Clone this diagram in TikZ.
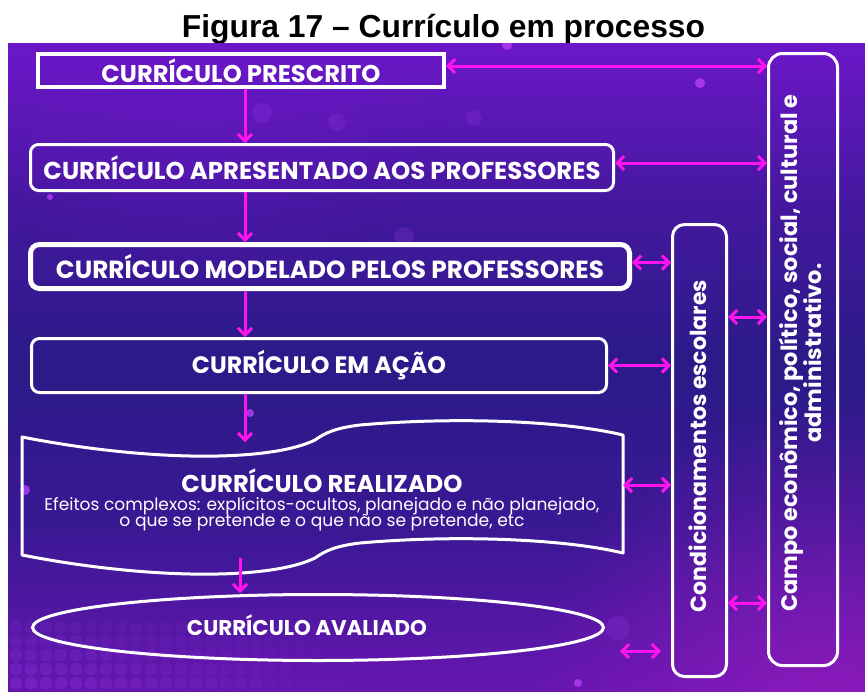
\documentclass[tikz,border=0pt]{standalone}
\usepackage{graphicx}
\usepackage{fontspec}
\setmainfont{Poppins}
\newfontfamily\titlefont{Liberation Sans}
\usetikzlibrary{arrows.meta,shapes.geometric,fadings}
\definecolor{mag}{HTML}{FF14EE}
\definecolor{bgA}{HTML}{6C17C8}
\definecolor{bgB}{HTML}{44189E}
\definecolor{bgC}{HTML}{2B1A88}
\definecolor{bgD}{HTML}{3A1894}
\definecolor{bgE}{HTML}{6616B0}
\definecolor{glowc}{HTML}{9A1CC0}
\definecolor{dotc}{HTML}{9C3CE8}
\definecolor{bokeh}{HTML}{B23CF2}
\pgfdeclareverticalshading{bgshade}{100bp}{color(0bp)=(bgE); color(25bp)=(bgE); color(37.5bp)=(bgD); color(50bp)=(bgC); color(62.5bp)=(bgB); color(75bp)=(bgA); color(100bp)=(bgA)}
\tikzfading[name=softglow, inner color=transparent!0, outer color=transparent!100]
\tikzset{
  box/.style={draw=white, text=white, inner sep=0pt, line width=3pt, rounded corners=8pt},
  biarrow/.style={mag, line width=3pt, {Straight Barb[length=7pt,width=14pt]}-{Straight Barb[length=7pt,width=14pt]}},
  downarrow/.style={mag, line width=3pt, -{Straight Barb[length=7pt,width=14pt]}},
  wtext/.style={text=white, inner sep=0pt},
}
\begin{document}
\begin{tikzpicture}[x=1pt,y=-1pt]
\fill[white] (0,0) rectangle (865,691);
\useasboundingbox (0,0) rectangle (865,691);
% title
\node[anchor=base, text=black, inner sep=0pt] (title) at (443.5,37) {\resizebox{523pt}{!}{\titlefont\bfseries Figura 17 – Currículo em processo}};
% background
\shade[shading=bgshade] (8,43) rectangle (865,691);
\begin{scope}
  \clip (8,43) rectangle (865,691);
  \fill[glowc, path fading=softglow, opacity=0.7] (830,700) circle (300);
  \fill[bgA, path fading=softglow, opacity=0.5] (200,40) circle (260);
  \foreach \i in {0,...,21}{
    \foreach \j in {0,...,4}{
      \pgfmathsetmacro\op{0.30*(1-\i/23)*(0.45+0.14*\j)}
      \fill[dotc, opacity=\op] (16+15*\i, 627+14*\j) circle (6.3);
    }
  }
  \foreach \bx/\by/\br in {262/113/10, 337/122/9, 404/237/10, 618/628/12, 474/118/8}{
    \fill[dotc, opacity=0.22] (\bx,\by) circle (\br);
  }
  \foreach \bx/\by/\br in {700/83/5, 578/683/4, 250/413/4, 50/197/3, 25/490/5, 507/45/5}{
    \fill[bokeh, opacity=0.85] (\bx,\by) circle (\br);
  }
\end{scope}
% boxes
\node[box, rounded corners=0pt, line width=4pt, minimum width=406pt, minimum height=33pt] (pres) at (241,70.5)
  {\resizebox{279pt}{!}{\bfseries CURRÍCULO PRESCRITO}};
\node[box, minimum width=583pt, minimum height=46pt] (apr) at (322,167.5)
  {\resizebox{557pt}{!}{\bfseries CURRÍCULO APRESENTADO AOS PROFESSORES}};
\node[box, line width=5pt, rounded corners=9pt, minimum width=599pt, minimum height=44pt] (mod) at (330,266.5)
  {\resizebox{548pt}{!}{\bfseries CURRÍCULO MODELADO PELOS PROFESSORES}};
\node[box, minimum width=575pt, minimum height=54pt] (acao) at (319,365.5)
  {\resizebox{254pt}{!}{\bfseries CURRÍCULO EM AÇÃO}};
% realizado (wave shape)
\draw[white, line width=3pt, line join=round]
  (22,437) .. controls (150,462) and (270,462) .. (315,440)
  .. controls (325,433) and (335,428) .. (360,425)
  .. controls (450,417) and (560,420) .. (623,435)
  -- (623,553)
  .. controls (560,538) and (450,535) .. (360,543)
  .. controls (335,546) and (325,551) .. (315,558)
  .. controls (270,580) and (150,580) .. (22,555) -- cycle;
\coordinate (wtop) at (245,442);
\coordinate (wbot) at (240,558);
\coordinate (wright) at (623,485);
\node[wtext] (realt) at (322,481) {\resizebox{281pt}{!}{\bfseries CURRÍCULO REALIZADO}};
\node[wtext] (reals1) at (322,506) {\resizebox{555pt}{!}{Efeitos complexos: explícitos-ocultos, planejado e não planejado,}};
\node[wtext] (reals2) at (322,522.5) {\resizebox{405pt}{!}{o que se pretende e o que não se pretende, etc}};
% avaliado
\node[draw=white, line width=3pt, ellipse, inner sep=0pt, minimum width=571pt, minimum height=66pt] (aval) at (318,627.5) {};
\node[wtext] (avalt) at (307,625) {\resizebox{240pt}{!}{\bfseries CURRÍCULO AVALIADO}};
% right columns
\node[box, rounded corners=12pt, minimum width=54pt, minimum height=452pt] (cond) at (699.5,450.5) {};
\node[wtext, rotate=90] (condt) at (698,446) {\resizebox{332pt}{!}{\bfseries Condicionamentos escolares}};
\node[box, rounded corners=14pt, minimum width=69pt, minimum height=612pt] (campo) at (803,359.5) {};
\node[wtext, rotate=90] (campot) at (804,353) {\resizebox{517pt}{!}{\bfseries\begin{tabular}{@{}c@{}}Campo econômico, político, social, cultural e\\[-1pt] administrativo.\end{tabular}}};
% vertical arrows
\coordinate (ax) at (245,0);
\draw[downarrow] (pres.south -| ax) -- (apr.north -| ax);
\draw[downarrow] (apr.south -| ax) -- (mod.north -| ax);
\draw[downarrow] (mod.south -| ax) -- (acao.north -| ax);
\draw[downarrow] (acao.south -| ax) -- (wtop);
\draw[downarrow] (wbot) -- (aval.north -| wbot);
% horizontal arrows
\draw[biarrow] ([yshift=4.5pt]pres.east) -- ([yshift=4.5pt]pres.east -| campo.west);
\draw[biarrow] ([yshift=4.5pt]apr.east) -- ([yshift=4.5pt]apr.east -| campo.west);
\draw[biarrow] ([yshift=4pt]mod.east) -- ([yshift=4pt]mod.east -| cond.west);
\draw[biarrow] (acao.east) -- (acao.east -| cond.west);
\draw[biarrow] (wright) -- (wright -| cond.west);
\coordinate (fa) at (620,651);
\coordinate (fb) at (661,651);
\draw[biarrow] (fa) -- (fb);
\coordinate (cc1) at (0,317);
\coordinate (cc2) at (0,603);
\draw[biarrow] (cond.east |- cc1) -- (campo.west |- cc1);
\draw[biarrow] (cond.east |- cc2) -- (campo.west |- cc2);
\end{tikzpicture}
\end{document}
